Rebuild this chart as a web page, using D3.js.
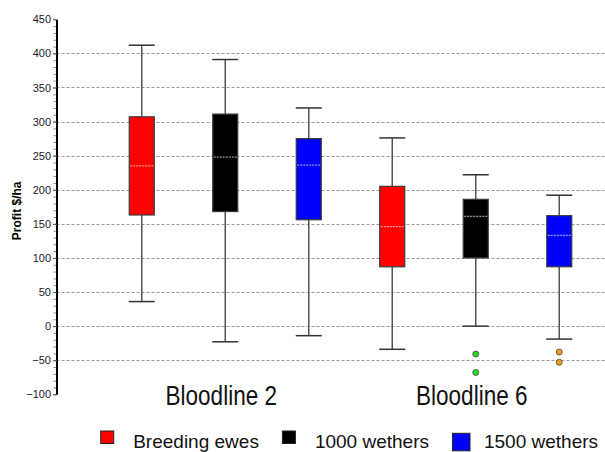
<!DOCTYPE html>
<html>
<head>
<meta charset="utf-8">
<script src="https://cdn.jsdelivr.net/npm/d3@7"></script>
<style>
  html, body { margin: 0; padding: 0; background: #fff; }
  svg { display: block; }
</style>
</head>
<body>
<svg id="chart" width="605" height="452"></svg>
<script>
// Profit distribution ($/ha) per enterprise, for two bloodlines
const groups = ["Bloodline 2", "Bloodline 6"];
const series = ["Breeding ewes", "1000 wethers", "1500 wethers"];
const seriesColors = ["#ff0000", "#000000", "#0000ff"];
const outlierColors = ["#ff9900", "#22dd22", "#f5a01a"];

// rows: groups, columns: series
const whiskerLow  = [[36, -23, -14], [-34, 0, -19]];
const quartile1   = [[163, 168, 156], [87, 100, 87]];
const medians     = [[235, 248, 236], [146, 161, 133]];
const quartile3   = [[307, 311, 275], [205, 186, 162]];
const whiskerHigh = [[412, 391, 320], [276, 222, 192]];
const outliers    = [[[], [], []], [[], [-41, -68], [-38, -53]]];

const yMajorTicks = d3.range(-100, 451, 50);
const yMinorTicks = d3.range(-100, 451, 10);
const yTitle = "Profit $/ha";

const svg = d3.select("#chart");
const W = 605;
const axisX = 56.5;
const plotTop = 19.3, plotBottom = 394.3;

const y = d3.scaleLinear().domain([-100, 450]).range([plotBottom, plotTop]);
const xGroup = d3.scaleBand().domain(groups).range([100, 601]);
const xSeries = d3.scaleBand().domain(series).range([0, xGroup.bandwidth()]);
const boxW = 25;

// horizontal dashed grid
svg.append("g")
  .selectAll("line")
  .data(yMajorTicks.filter(d => d > -100 && d < 450))
  .join("line")
  .attr("x1", axisX).attr("x2", W)
  .attr("y1", d => Math.round(y(d)) + 0.5).attr("y2", d => Math.round(y(d)) + 0.5)
  .attr("stroke", "#9a9a9a").attr("stroke-width", 1)
  .attr("stroke-dasharray", "3,2");

// y axis: minor ticks, then labelled major ticks
svg.append("g")
  .attr("transform", `translate(${axisX},0)`)
  .call(d3.axisLeft(y).tickValues(yMinorTicks).tickSize(3).tickSizeOuter(0).tickFormat(""))
  .call(g => g.select(".domain").remove())
  .call(g => g.selectAll("line").attr("stroke", "#888"));

svg.append("g")
  .attr("transform", `translate(${axisX},0)`)
  .call(d3.axisLeft(y).tickValues(yMajorTicks).tickSize(3.5).tickSizeOuter(0).tickPadding(2))
  .call(g => g.select(".domain").attr("stroke", "#000").attr("stroke-width", 2))
  .call(g => g.selectAll(".tick line").attr("stroke", "#555"))
  .call(g => g.selectAll("text")
    .attr("font-family", "'Liberation Sans', Arial, sans-serif")
    .attr("font-size", 11).attr("fill", "#1a1a2a"));

svg.append("text")
  .attr("transform", `translate(20.5,${(plotTop + plotBottom) / 2 + 4}) rotate(-90)`)
  .attr("text-anchor", "middle")
  .attr("font-family", "'Liberation Sans', Arial, sans-serif")
  .attr("font-size", 12).attr("font-weight", "bold")
  .text(yTitle);

// build box records
const boxes = [];
groups.forEach((g, gi) => {
  series.forEach((s, si) => {
    boxes.push({
      group: g, series: s, si,
      lo: whiskerLow[gi][si], q1: quartile1[gi][si], med: medians[gi][si],
      q3: quartile3[gi][si], hi: whiskerHigh[gi][si], out: outliers[gi][si],
      cx: xGroup(g) + xSeries(s) + xSeries.bandwidth() / 2
    });
  });
});

const bx = svg.append("g").selectAll("g").data(boxes).join("g");

// whiskers
bx.append("line")
  .attr("x1", d => d.cx).attr("x2", d => d.cx)
  .attr("y1", d => y(d.hi)).attr("y2", d => y(d.q3))
  .attr("stroke", "#555").attr("stroke-width", 1.5);
bx.append("line")
  .attr("x1", d => d.cx).attr("x2", d => d.cx)
  .attr("y1", d => y(d.q1)).attr("y2", d => y(d.lo))
  .attr("stroke", "#555").attr("stroke-width", 1.5);
// caps
bx.selectAll("line.cap")
  .data(d => [{cx: d.cx, v: d.hi}, {cx: d.cx, v: d.lo}])
  .join("line").attr("class", "cap")
  .attr("x1", d => d.cx - boxW / 2 - 0.5).attr("x2", d => d.cx + boxW / 2 + 0.5)
  .attr("y1", d => y(d.v)).attr("y2", d => y(d.v))
  .attr("stroke", "#333").attr("stroke-width", 1.5);

// boxes
bx.append("rect")
  .attr("x", d => d.cx - boxW / 2).attr("width", boxW)
  .attr("y", d => y(d.q3)).attr("height", d => y(d.q1) - y(d.q3))
  .attr("fill", d => seriesColors[d.si])
  .attr("stroke", "#3a3a3a").attr("stroke-width", 1.2);

// medians
bx.append("line")
  .attr("x1", d => d.cx - boxW / 2 + 1).attr("x2", d => d.cx + boxW / 2 - 1)
  .attr("y1", d => y(d.med)).attr("y2", d => y(d.med))
  .attr("stroke", "#fff").attr("stroke-opacity", 0.6)
  .attr("stroke-width", 1.2).attr("stroke-dasharray", "2,1");

// outliers
bx.selectAll("circle")
  .data(d => d.out.map(v => ({cx: d.cx, v, si: d.si})))
  .join("circle")
  .attr("cx", d => d.cx).attr("cy", d => y(d.v)).attr("r", 3)
  .attr("fill", d => outlierColors[d.si])
  .attr("stroke", "#444").attr("stroke-width", 0.8);

// group labels (condensed face)
svg.append("g").selectAll("text")
  .data(groups)
  .join("text")
  .attr("transform", d => `translate(${xGroup(d) + xGroup.bandwidth() / 2 - 4},405) scale(0.82,1)`)
  .attr("text-anchor", "middle")
  .attr("font-family", "'Liberation Sans', Arial, sans-serif")
  .attr("font-size", 27.5).attr("fill", "#111")
  .text(d => d);

// legend
const legend = svg.append("g");
const swatchSizes = [[13, 12.5], [13, 12.5], [17.5, 17.5]];
const swatchTops = [431, 431, 433.3];
let lx = 100.7;
series.forEach((s, i) => {
  legend.append("rect")
    .attr("x", lx).attr("y", swatchTops[i])
    .attr("width", swatchSizes[i][0]).attr("height", swatchSizes[i][1])
    .attr("fill", seriesColors[i]).attr("stroke", "#222").attr("stroke-width", 1);
  lx += swatchSizes[i][0] + (i === 2 ? 14 : 19.5);
  const t = legend.append("text")
    .attr("x", lx).attr("y", 447.5)
    .attr("font-family", "'Liberation Sans', Arial, sans-serif")
    .attr("font-size", 19).attr("fill", "#111")
    .text(s);
  lx += t.node().getComputedTextLength() + 23.5;
});
</script>
</body>
</html>
